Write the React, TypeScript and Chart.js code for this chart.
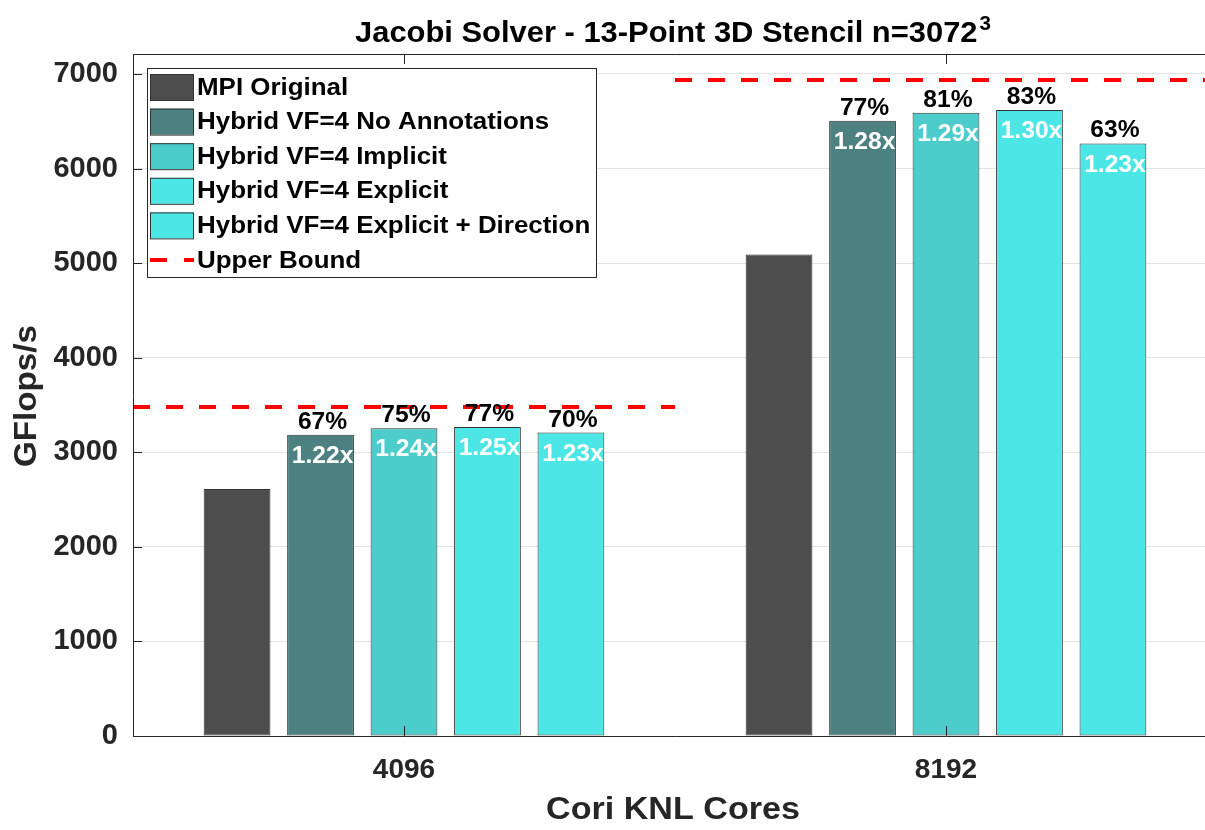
import React, { useEffect, useRef } from 'react';
import { Chart, registerables } from 'chart.js';

Chart.register(...registerables);

// ---------- data ----------
const categories = ['4096', '8192'];
const seriesNames = [
  'MPI Original',
  'Hybrid VF=4 No Annotations',
  'Hybrid VF=4 Implicit',
  'Hybrid VF=4 Explicit',
  'Hybrid VF=4 Explicit + Direction',
];
const mpiOriginal = [2612, 5090];
const hybridNoAnnotations = [3185, 6505];
const hybridImplicit = [3255, 6590];
const hybridExplicit = [3267, 6620];
const hybridExplicitDirection = [3208, 6265];
const upperBound = [3478, 6935];

const pctNoAnnotations = ['67%', '77%'];
const pctImplicit = ['75%', '81%'];
const pctExplicit = ['77%', '83%'];
const pctExplicitDirection = ['70%', '63%'];

const speedNoAnnotations = ['1.22x', '1.28x'];
const speedImplicit = ['1.24x', '1.29x'];
const speedExplicit = ['1.25x', '1.30x'];
const speedExplicitDirection = ['1.23x', '1.23x'];

const yTickValues = [0, 1000, 2000, 3000, 4000, 5000, 6000, 7000];
const yMax = 7211;

const titleMain = 'Jacobi Solver - 13-Point 3D Stencil n=3072';
const titleSup = '3';
const xTitle = 'Cori KNL Cores';
const yTitle = 'GFlops/s';
const upperBoundLabel = 'Upper Bound';

// ---------- styles ----------
const FONT = "'Liberation Sans', Arial, Helvetica, sans-serif";
const seriesColors = ['#4d4d4d', '#4d8080', '#4dcccc', '#4de6e6', '#4de6e6'];
const upperBoundColor = '#ff0000';
const pctLabels = [null, pctNoAnnotations, pctImplicit, pctExplicit, pctExplicitDirection];
const speedLabels = [null, speedNoAnnotations, speedImplicit, speedExplicit, speedExplicitDirection];
const seriesValues = [mpiOriginal, hybridNoAnnotations, hybridImplicit, hybridExplicit, hybridExplicitDirection];

const CANVAS_W = 1230;
const CANVAS_H = 830;
const AREA = { left: 133, right: 1217, top: 54, bottom: 736 };
const STRETCH = 1.07;

function drawText(ctx: CanvasRenderingContext2D, text: string, x: number, y: number, align: CanvasTextAlign, sx = STRETCH) {
  ctx.save();
  ctx.translate(x, y);
  ctx.scale(sx, 1);
  ctx.textAlign = align;
  ctx.fillText(text, 0, 0);
  ctx.restore();
}

const decorPlugin = {
  id: 'decor',
  afterDatasetsDraw(chart: any) {
    const { ctx, chartArea: a, scales } = chart;
    const xs = scales.x;
    const ys = scales.y;
    ctx.save();

    // upper bound dashed lines (one per category, spanning the category width)
    ctx.save();
    ctx.beginPath();
    ctx.rect(a.left, a.top, a.right - a.left, a.bottom - a.top);
    ctx.clip();
    ctx.strokeStyle = upperBoundColor;
    ctx.lineWidth = 4;
    ctx.setLineDash([17, 16]);
    upperBound.forEach((v, i) => {
      const y = ys.getPixelForValue(v);
      ctx.beginPath();
      ctx.moveTo(xs.getPixelForValue(i - 0.5), y);
      ctx.lineTo(xs.getPixelForValue(i + 0.5), y);
      ctx.stroke();
    });
    ctx.restore();

    // spines and inward ticks
    ctx.strokeStyle = '#262626';
    ctx.lineWidth = 1;
    ctx.setLineDash([]);
    ctx.beginPath();
    ctx.moveTo(a.left + 0.5, a.top + 0.5);
    ctx.lineTo(a.right + 0.5, a.top + 0.5);
    ctx.moveTo(a.left + 0.5, a.top);
    ctx.lineTo(a.left + 0.5, a.bottom + 0.5);
    ctx.moveTo(a.left, a.bottom + 0.5);
    ctx.lineTo(a.right + 0.5, a.bottom + 0.5);
    yTickValues.forEach((v) => {
      const y = Math.round(ys.getPixelForValue(v)) + 0.5;
      ctx.moveTo(a.left, y);
      ctx.lineTo(a.left + 9, y);
    });
    categories.forEach((_, i) => {
      const x = Math.round(xs.getPixelForValue(i)) + 0.5;
      ctx.moveTo(x, a.bottom);
      ctx.lineTo(x, a.bottom - 10);
      ctx.moveTo(x, a.top);
      ctx.lineTo(x, a.top + 10);
    });
    ctx.stroke();

    // bar labels
    seriesValues.forEach((_, di) => {
      const meta = chart.getDatasetMeta(di);
      const pl = pctLabels[di];
      const sl = speedLabels[di];
      meta.data.forEach((bar: any, i: number) => {
        if (pl) {
          ctx.fillStyle = '#000000';
          ctx.font = `bold 23px ${FONT}`;
          ctx.textBaseline = 'alphabetic';
          drawText(ctx, pl[i], bar.x + 2, bar.y - 6, 'center');
        }
        if (sl) {
          ctx.fillStyle = '#ffffff';
          ctx.font = `bold 23px ${FONT}`;
          ctx.textBaseline = 'middle';
          drawText(ctx, sl[i], bar.x + 2, bar.y + 22, 'center');
        }
      });
    });

    // legend
    const lx = 147, ly = 68, lw = 449, lh = 209;
    ctx.fillStyle = '#ffffff';
    ctx.fillRect(lx, ly, lw, lh);
    ctx.strokeStyle = '#262626';
    ctx.lineWidth = 1;
    ctx.strokeRect(lx + 0.5, ly + 0.5, lw, lh);
    const rowH = 34.6;
    const firstY = 87;
    ctx.font = `bold 24px ${FONT}`;
    ctx.textBaseline = 'middle';
    const entries = chart.data.datasets.map((ds: any) => ({ label: ds.label, color: ds.backgroundColor, line: false }));
    entries.push({ label: upperBoundLabel, color: upperBoundColor, line: true });
    entries.forEach((e: any, di: number) => {
      const cy = firstY + di * rowH;
      if (e.line) {
        ctx.strokeStyle = e.color;
        ctx.lineWidth = 4;
        ctx.beginPath();
        ctx.moveTo(150, cy);
        ctx.lineTo(167, cy);
        ctx.moveTo(184, cy);
        ctx.lineTo(194, cy);
        ctx.stroke();
      } else {
        ctx.fillStyle = e.color;
        ctx.fillRect(150, cy - 13, 43, 26);
        ctx.strokeStyle = '#333333';
        ctx.lineWidth = 1;
        ctx.strokeRect(150.5, cy - 12.5, 43, 26);
      }
      ctx.fillStyle = '#000000';
      drawText(ctx, e.label, 197, cy + 1, 'left', 1.08);
    });

    ctx.restore();
  },
  afterDraw(chart: any) {
    const { ctx, chartArea: a } = chart;
    ctx.save();
    ctx.fillStyle = '#000000';
    ctx.textBaseline = 'alphabetic';
    ctx.textAlign = 'left';
    const sx = 1.03;
    ctx.font = `bold 30px ${FONT}`;
    const wMain = ctx.measureText(titleMain).width * sx;
    ctx.font = `bold 20px ${FONT}`;
    const wSup = ctx.measureText(titleSup).width * sx;
    const cx = (a.left + a.right) / 2 - 2;
    const x0 = cx - (wMain + wSup + 2) / 2;
    ctx.font = `bold 30px ${FONT}`;
    drawText(ctx, titleMain, x0, 42, 'left', sx);
    ctx.font = `bold 20px ${FONT}`;
    drawText(ctx, titleSup, x0 + wMain + 2, 30, 'left', sx);

    ctx.fillStyle = '#262626';
    ctx.font = `bold 31px ${FONT}`;
    drawText(ctx, xTitle, cx, 819, 'center', 1.1);
    ctx.save();
    ctx.translate(36, (a.top + a.bottom) / 2 + 1);
    ctx.rotate(-Math.PI / 2);
    drawText(ctx, yTitle, 0, 0, 'center', 1.07);
    ctx.restore();
    ctx.restore();
  },
};

export default function App() {
  const canvasRef = useRef<HTMLCanvasElement | null>(null);

  useEffect(() => {
    const canvas = canvasRef.current;
    if (!canvas) return;
    const datasets: any[] = seriesValues.map((vals, i) => ({
      label: seriesNames[i],
      data: vals,
      backgroundColor: seriesColors[i],
      borderColor: '#333333',
      borderWidth: 1,
      borderSkipped: false,
      categoryPercentage: 0.77,
      barPercentage: 0.8,
    }));

    const chart = new Chart(canvas, {
      type: 'bar',
      data: { labels: categories, datasets },
      options: {
        animation: false,
        responsive: false,
        events: [],
        layout: { padding: { top: AREA.top, right: CANVAS_W - AREA.right, left: 0, bottom: 0 } },
        plugins: {
          legend: { display: false },
          title: { display: false },
          tooltip: { enabled: false },
        },
        scales: {
          x: {
            type: 'category',
            offset: true,
            grid: { display: false, drawTicks: false },
            border: { display: false },
            ticks: {
              color: '#262626',
              font: { family: FONT, size: 28, weight: 'bold' },
              padding: 17,
              maxRotation: 0,
            },
            afterFit: (s: any) => {
              s.height = CANVAS_H - AREA.bottom;
            },
          },
          y: {
            type: 'linear',
            min: 0,
            max: yMax,
            grid: { color: '#e3e3e3', drawTicks: false, lineWidth: 1 },
            border: { display: false },
            afterBuildTicks: (s: any) => {
              s.ticks = yTickValues.map((v) => ({ value: v }));
            },
            ticks: {
              color: '#262626',
              font: { family: FONT, size: 29, weight: 'bold' },
              padding: 15,
              callback: (v: any) => String(v),
            },
            afterFit: (s: any) => {
              s.width = AREA.left;
            },
          },
        },
      } as any,
      plugins: [decorPlugin],
    });
    return () => chart.destroy();
  }, []);

  return (
    <div
      style={{
        position: 'fixed',
        left: 0,
        top: 0,
        width: 1205,
        height: 830,
        overflow: 'hidden',
        background: '#ffffff',
      }}
    >
      <canvas
        ref={canvasRef}
        width={CANVAS_W}
        height={CANVAS_H}
        style={{ width: CANVAS_W, height: CANVAS_H, display: 'block' }}
      />
    </div>
  );
}
